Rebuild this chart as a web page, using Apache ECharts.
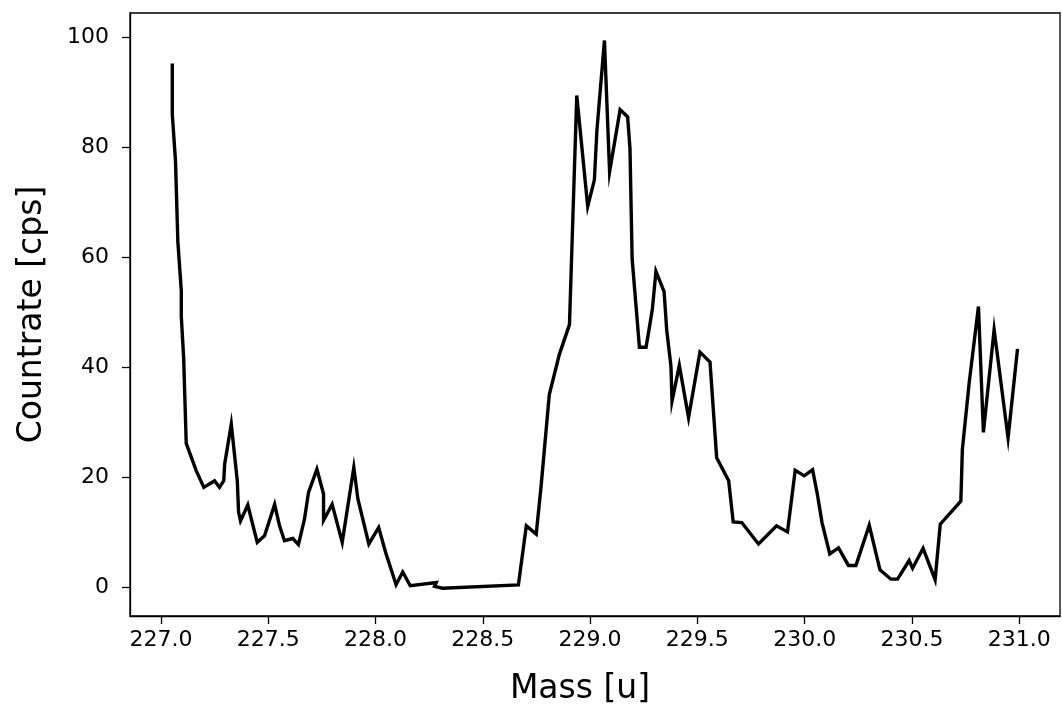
<!DOCTYPE html>
<html>
<head>
<meta charset="utf-8">
<script src="https://cdn.jsdelivr.net/npm/echarts@6/dist/echarts.min.js"></script>
<style>
html,body{margin:0;padding:0;background:#fff;}
#chart{width:1062px;height:711px;}
</style>
</head>
<body>
<div id="chart"></div>
<script>
const massValues = [
227.053,227.053,227.068,227.079,227.095,227.095,227.106,227.118,227.165,227.200,
227.250,227.273,227.293,227.297,227.328,227.356,227.362,227.371,227.405,227.449,
227.483,227.530,227.553,227.576,227.615,227.641,227.669,227.688,227.727,227.758,
227.758,227.798,227.845,227.899,227.918,227.969,228.015,228.047,228.096,228.127,
228.162,228.283,228.275,228.313,228.666,228.703,228.749,228.772,228.810,228.857,
228.904,228.938,228.989,229.020,229.032,229.067,229.091,229.140,229.175,229.186,
229.196,229.230,229.261,229.290,229.307,229.345,229.357,229.377,229.382,229.416,
229.459,229.512,229.559,229.590,229.646,229.667,229.707,229.785,229.869,229.920,
229.956,229.998,230.037,230.059,230.081,230.117,230.158,230.204,230.239,230.301,
230.351,230.402,230.433,230.487,230.503,230.552,230.608,230.632,230.728,230.735,
230.767,230.810,230.833,230.883,230.948,230.992
];
const countValues = [
95.3,86.1,77.6,62.9,54.0,49.3,41.8,26.2,21.2,18.2,
19.4,18.2,19.4,22.4,29.7,19.4,13.7,12.1,15.0,8.2,
9.4,15.1,11.2,8.5,8.9,7.8,12.4,17.3,21.5,17.0,
12.2,15.1,8.2,21.8,16.1,7.9,10.9,6.4,0.5,2.8,
0.3,0.9,0.2,-0.15,0.45,11.2,9.7,18.5,35.1,42.4,
47.8,89.5,69.3,74.1,83.2,99.5,75.6,86.9,85.6,79.9,
59.8,43.7,43.7,50.5,57.5,53.8,46.9,40.2,33.9,40.4,
30.9,42.8,41.0,23.6,19.4,11.9,11.8,7.9,11.2,10.1,
21.3,20.3,21.4,17.0,11.8,6.1,7.2,4.0,4.0,11.3,
3.2,1.5,1.5,4.9,3.5,7.1,1.4,11.5,15.7,25.1,
37.3,51.1,28.2,46.9,27.2,43.4
];
const xTickValues = [227.0,227.5,228.0,228.5,229.0,229.5,230.0,230.5,231.0];
const yTickValues = [0,20,40,60,80,100];

const points = massValues.map((m, i) => [m, countValues[i]]);
const font = 'DejaVu Sans';

const chart = echarts.init(document.getElementById('chart'), null, {renderer: 'canvas'});
chart.setOption({
  animation: false,
  backgroundColor: '#ffffff',
  grid: {left: 130, right: 2, top: 13, bottom: 94, show: true, borderColor: '#000', borderWidth: 1.3, backgroundColor: 'transparent'},
  xAxis: {
    type: 'value', min: 226.856, max: 231.19,
    name: 'Mass [u]', nameLocation: 'middle', nameGap: 57,
    nameTextStyle: {fontFamily: font, fontSize: 33, color: '#000', padding: [0, 30, 0, 0]},
    axisLine: {show: true, onZero: false, lineStyle: {color: '#000', width: 1.3}},
    axisTick: {show: true, length: 8, lineStyle: {color: '#000', width: 1.3}, customValues: xTickValues},
    axisLabel: {show: true, margin: 13, fontFamily: font, fontSize: 22, color: '#000', customValues: xTickValues,
      formatter: v => Number(v).toFixed(1)},
    splitLine: {show: false}
  },
  yAxis: {
    type: 'value', min: -5.2, max: 104.5,
    name: 'Countrate [cps]', nameLocation: 'middle', nameGap: 81,
    nameTextStyle: {fontFamily: font, fontSize: 33, color: '#000'},
    axisLine: {show: true, onZero: false, lineStyle: {color: '#000', width: 1.3}},
    axisTick: {show: true, length: 8, lineStyle: {color: '#000', width: 1.3}, customValues: yTickValues},
    axisLabel: {show: true, margin: 21, fontFamily: font, fontSize: 22, color: '#000', customValues: yTickValues,
      formatter: v => String(Math.round(v))},
    splitLine: {show: false}
  },
  series: [{
    type: 'line', data: points, showSymbol: false, symbol: 'none',
    lineStyle: {color: '#000', width: 3.4, join: 'miter'},
    itemStyle: {color: '#000'}, clip: true
  }]
});
</script>
</body>
</html>
